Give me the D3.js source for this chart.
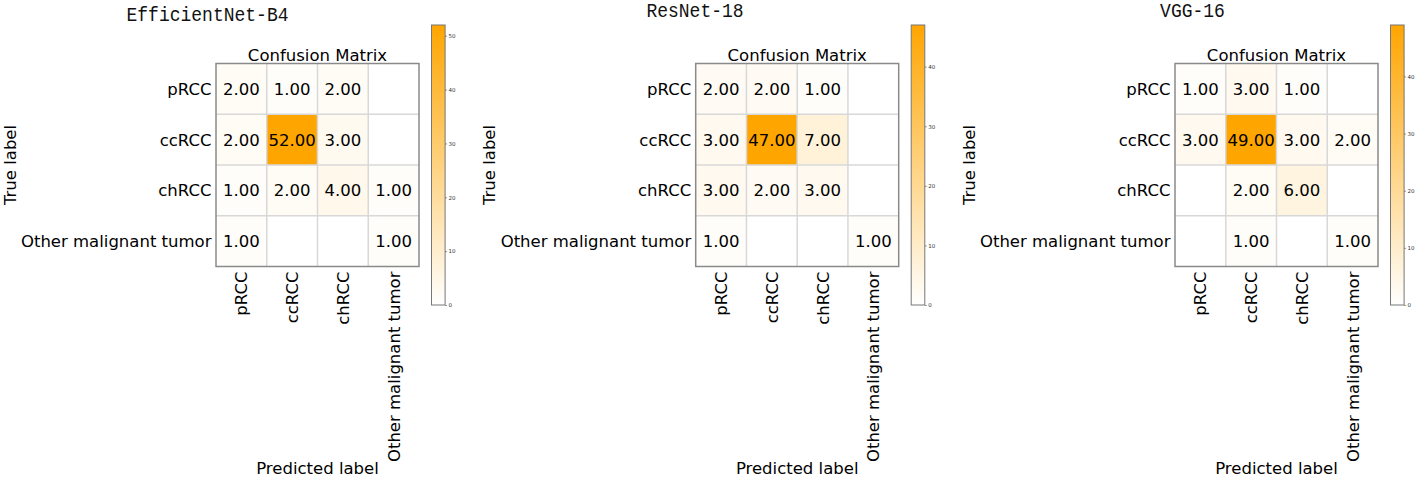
<!DOCTYPE html>
<html>
<head>
<meta charset="utf-8">
<script src="https://cdn.jsdelivr.net/npm/d3@7"></script>
<style>
  body { margin: 0; background: #fff; }
  svg { display: block; font-family: "DejaVu Sans", sans-serif; }
</style>
</head>
<body>
<div id="chart-area"></div>
<script>
// class labels shared by all three matrices
const classes = ['pRCC', 'ccRCC', 'chRCC', 'Other malignant tumor'];
const modelNames = ['EfficientNet-B4', 'ResNet-18', 'VGG-16'];

// rows = true label, cols = predicted label
const effnetMatrix = [[2, 1, 2, 0], [2, 52, 3, 0], [1, 2, 4, 1], [1, 0, 0, 1]];
const resnetMatrix = [[2, 2, 1, 0], [3, 47, 7, 0], [3, 2, 3, 0], [1, 0, 0, 1]];
const vggMatrix = [[1, 3, 1, 0], [3, 49, 3, 2], [0, 2, 6, 0], [0, 1, 0, 1]];

const effnetTicks = [0, 10, 20, 30, 40, 50];
const resnetTicks = [0, 10, 20, 30, 40];
const vggTicks = [0, 10, 20, 30, 40];

const matrices = [effnetMatrix, resnetMatrix, vggMatrix];
const cbTicks = [effnetTicks, resnetTicks, vggTicks];

// layout of each panel (box left edge, title placement)
const panelLeft = [216, 695.7, 1175];
const titleDx = [-8.5, -0.7, 17.5];
const titleY = [21, 17, 17];

const W = 1415, H = 478;
const boxTop = 63.5, boxSize = 203;
const cbTop = 25, cbBottom = 305, cbW = 13.6, cbOffset = 215.5;

const svg = d3.select('#chart-area').append('svg')
    .attr('width', W).attr('height', H);

const defs = svg.append('defs');
const grad = defs.append('linearGradient')
    .attr('id', 'cbgrad').attr('x1', 0).attr('y1', 1).attr('x2', 0).attr('y2', 0);
grad.append('stop').attr('offset', '0%').attr('stop-color', '#ffffff');
grad.append('stop').attr('offset', '100%').attr('stop-color', '#ffa500');

matrices.forEach((m, p) => {
    const g = svg.append('g').attr('transform', `translate(${panelLeft[p]},0)`);
    const vmax = d3.max(m.flat());
    const color = d3.scaleLinear().domain([0, vmax]).range(['#ffffff', '#ffa500'])
        .interpolate(d3.interpolateRgb);

    const x = d3.scaleBand().domain(classes).range([0, boxSize]);
    const y = d3.scaleBand().domain(classes).range([boxTop, boxTop + boxSize]);

    // model title
    g.append('text')
        .attr('x', titleDx[p])
        .attr('y', titleY[p])
        .attr('text-anchor', 'middle')
        .attr('font-family', '"Liberation Mono", monospace')
        .attr('font-size', 20)
        .attr('textLength', modelNames[p].length * 10.8)
        .attr('lengthAdjust', 'spacingAndGlyphs')
        .attr('fill', '#111')
        .text(modelNames[p]);

    g.append('text')
        .attr('x', boxSize / 2).attr('y', boxTop - 2.5)
        .attr('text-anchor', 'middle').attr('font-size', 16.5)
        .text('Confusion Matrix');

    const cells = [];
    m.forEach((row, i) => row.forEach((v, j) => cells.push({ r: classes[i], c: classes[j], v })));

    g.selectAll('rect.cell').data(cells).join('rect')
        .attr('class', 'cell')
        .attr('x', d => x(d.c)).attr('y', d => y(d.r))
        .attr('width', x.bandwidth()).attr('height', y.bandwidth())
        .attr('fill', d => color(d.v));

    // grid lines
    classes.slice(1).forEach(c => {
        g.append('line').attr('x1', x(c)).attr('x2', x(c))
            .attr('y1', boxTop).attr('y2', boxTop + boxSize)
            .attr('stroke', '#d8d8d8').attr('stroke-width', 1.5);
        g.append('line').attr('x1', 0).attr('x2', boxSize)
            .attr('y1', y(c)).attr('y2', y(c))
            .attr('stroke', '#d8d8d8').attr('stroke-width', 1.5);
    });

    g.append('rect').attr('x', 0).attr('y', boxTop)
        .attr('width', boxSize).attr('height', boxSize)
        .attr('fill', 'none').attr('stroke', '#8a8a8a').attr('stroke-width', 1.5);

    g.selectAll('text.val').data(cells.filter(d => d.v > 0)).join('text')
        .attr('class', 'val')
        .attr('x', d => x(d.c) + x.bandwidth() / 2)
        .attr('y', d => y(d.r) + y.bandwidth() / 2 + 6)
        .attr('text-anchor', 'middle').attr('font-size', 16.5)
        .text(d => d.v.toFixed(2));

    // y tick labels
    g.selectAll('text.ytl').data(classes).join('text')
        .attr('class', 'ytl')
        .attr('x', -4.5).attr('y', d => y(d) + y.bandwidth() / 2 + 6)
        .attr('text-anchor', 'end').attr('font-size', 16.5)
        .text(d => d);

    // x tick labels (rotated)
    g.selectAll('text.xtl').data(classes).join('text')
        .attr('class', 'xtl')
        .attr('transform', d => `translate(${x(d) + x.bandwidth() / 2},${boxTop + boxSize + 5}) rotate(-90)`)
        .attr('y', 6)
        .attr('text-anchor', 'end').attr('font-size', 16.5)
        .text(d => d);

    g.append('text')
        .attr('x', boxSize / 2).attr('y', 474)
        .attr('text-anchor', 'middle').attr('font-size', 16.5)
        .text('Predicted label');

    g.append('text')
        .attr('transform', `translate(-200.5,${boxTop + boxSize / 2}) rotate(-90)`)
        .attr('text-anchor', 'middle').attr('font-size', 16.5)
        .text('True label');

    // colorbar
    const cb = g.append('g').attr('transform', `translate(${cbOffset},0)`);
    const cy = d3.scaleLinear().domain([0, vmax]).range([cbBottom, cbTop]);
    cb.append('rect').attr('x', 0).attr('y', cbTop)
        .attr('width', cbW).attr('height', cbBottom - cbTop)
        .attr('fill', 'url(#cbgrad)')
        .attr('stroke', '#777').attr('stroke-width', 1);
    const axis = cb.append('g').attr('transform', `translate(${cbW},0)`)
        .call(d3.axisRight(cy).tickValues(cbTicks[p]).tickSize(2).tickPadding(1.5));
    axis.select('.domain').remove();
    axis.selectAll('line').attr('stroke', '#555').attr('stroke-width', 0.6);
    axis.selectAll('text').attr('font-size', 5.5).attr('fill', '#333')
        .attr('font-family', '"DejaVu Sans", sans-serif');
});
</script>
</body>
</html>
